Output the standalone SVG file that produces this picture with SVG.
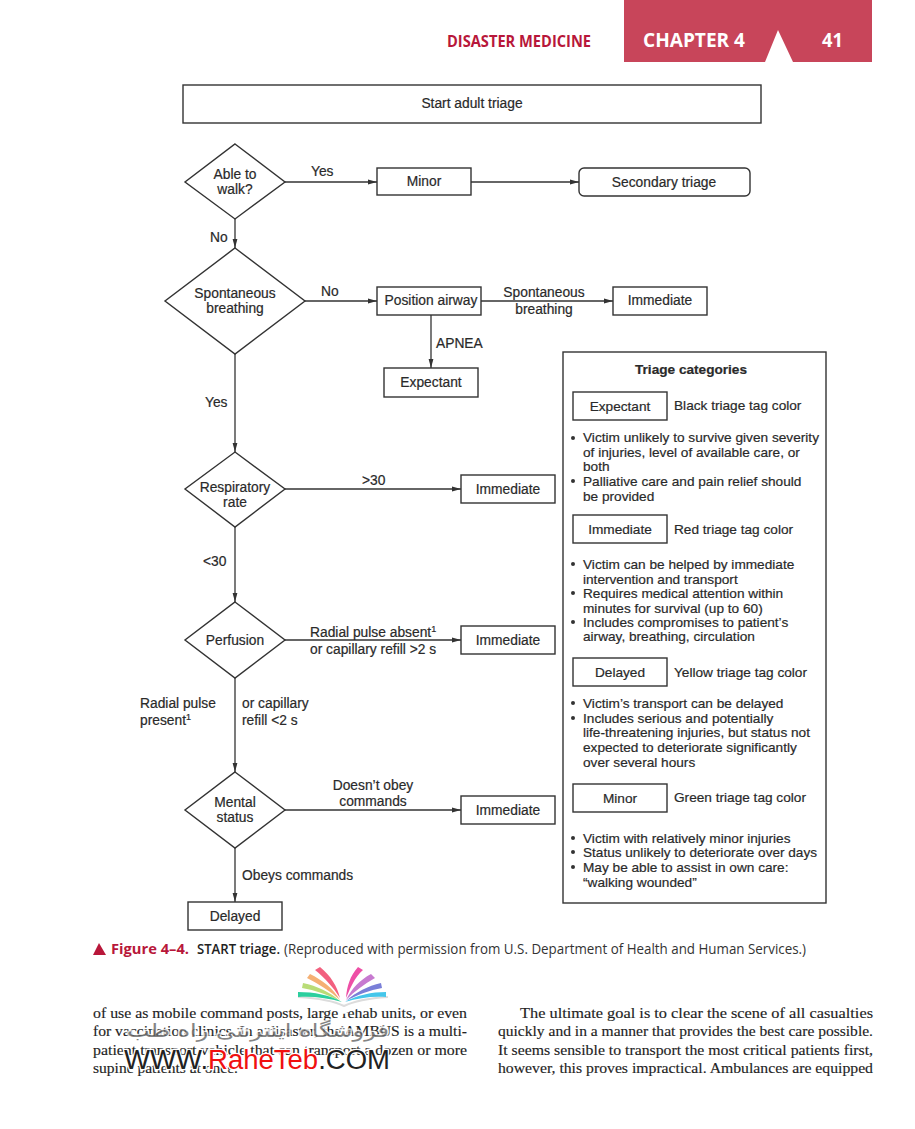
<svg xmlns="http://www.w3.org/2000/svg" width="915" height="1129" viewBox="0 0 915 1129">
<style>
text{font-family:"Liberation Sans",Arial,sans-serif;font-size:13.8px;fill:#2a2a2a;stroke:#2a2a2a;stroke-width:.2}
#categories text{font-size:13.65px}
.c{text-anchor:middle}
.b{fill:#fff;stroke:#333;stroke-width:1.4}
.l{fill:none;stroke:#333;stroke-width:1.3;marker-end:url(#a)}
.dot{fill:#333}
text.body{font-family:"Liberation Serif","Times New Roman",serif;font-size:15px;fill:#222;stroke-width:.15}
text.cap{font-family:"Open Sans","Noto Sans",sans-serif;font-size:15px;fill:#333;stroke:none}
text.hd{font-family:"Open Sans","Noto Sans",sans-serif;font-weight:700;stroke:none}
.sup{font-size:9px}
</style>
<defs>
<marker id="a" markerUnits="userSpaceOnUse" markerWidth="10" markerHeight="6" refX="9" refY="3" orient="auto"><path d="M0 .6L9 3L0 5.4Z" fill="#333"/></marker>
</defs>
<rect width="915" height="1129" fill="#fff"/>
<g id="header">
<path d="M624 0H872V62H793L778 30L765 62H624Z" fill="#c8455a"/>
<text class="hd" x="447" y="47" style="font-size:16px;fill:#b8173a" textLength="144" lengthAdjust="spacingAndGlyphs">DISASTER MEDICINE</text>
<text class="hd" x="643" y="47" style="font-size:19px;fill:#fff" textLength="102" lengthAdjust="spacingAndGlyphs">CHAPTER 4</text>
<text class="hd" x="822" y="47" style="font-size:19px;fill:#fff" textLength="21" lengthAdjust="spacingAndGlyphs">41</text>
</g>
<g id="connectors">
<path class="l" d="M285 182H377"/>
<path class="l" d="M471 182H579"/>
<path class="l" d="M235 219V248"/>
<path class="l" d="M305 301H377"/>
<path class="l" d="M481 301H613"/>
<path class="l" d="M431 315V368"/>
<path class="l" d="M235 354V452"/>
<path class="l" d="M285 489H461"/>
<path class="l" d="M235 527V602"/>
<path class="l" d="M285 640H461"/>
<path class="l" d="M235 678V772"/>
<path class="l" d="M285 810H461"/>
<path class="l" d="M235 848V902"/>
</g>
<g id="start"><rect class="b" x="183" y="85" width="578" height="38"/><text class="c" x="472" y="108">Start adult triage</text></g>
<g id="walk"><path class="b" d="M235 144L285 182L235 219L185 182Z"/><text class="c" x="235" y="179">Able to</text><text class="c" x="235" y="194">walk?</text></g>
<g id="minor"><rect class="b" x="377" y="168" width="94" height="27"/><text class="c" x="424" y="186">Minor</text></g>
<g id="secondary"><rect class="b" x="579" y="168" width="171" height="28" rx="5"/><text class="c" x="664" y="187">Secondary triage</text></g>
<g id="breathing"><path class="b" d="M235 248L305 301L235 354L165 301Z"/><text class="c" x="235" y="298">Spontaneous</text><text class="c" x="235" y="313">breathing</text></g>
<g id="airway"><rect class="b" x="377" y="287" width="104" height="28"/><text class="c" x="431" y="305">Position airway</text></g>
<g id="immediate1"><rect class="b" x="613" y="287" width="94" height="28"/><text class="c" x="660" y="305">Immediate</text></g>
<g id="expectant"><rect class="b" x="384" y="368" width="94" height="29"/><text class="c" x="431" y="387">Expectant</text></g>
<g id="resp"><path class="b" d="M235 452L285 489L235 527L185 489Z"/><text class="c" x="235" y="492">Respiratory</text><text class="c" x="235" y="507">rate</text></g>
<g id="immediate2"><rect class="b" x="461" y="475" width="94" height="28"/><text class="c" x="508" y="494">Immediate</text></g>
<g id="perfusion"><path class="b" d="M235 602L285 640L235 678L185 640Z"/><text class="c" x="235" y="645">Perfusion</text></g>
<g id="immediate3"><rect class="b" x="461" y="626" width="94" height="28"/><text class="c" x="508" y="645">Immediate</text></g>
<g id="mental"><path class="b" d="M235 772L285 810L235 848L185 810Z"/><text class="c" x="235" y="807">Mental</text><text class="c" x="235" y="822">status</text></g>
<g id="immediate4"><rect class="b" x="461" y="796" width="94" height="28"/><text class="c" x="508" y="815">Immediate</text></g>
<g id="delayed"><rect class="b" x="188" y="902" width="94" height="28"/><text class="c" x="235" y="921">Delayed</text></g>
<g id="labels">
<text x="311" y="176">Yes</text>
<text x="210" y="242">No</text>
<text x="321" y="296">No</text>
<text class="c" x="544" y="297">Spontaneous</text>
<text class="c" x="544" y="314">breathing</text>
<text x="436" y="348">APNEA</text>
<text x="205" y="407">Yes</text>
<text x="362" y="485">&gt;30</text>
<text x="203" y="566">&lt;30</text>
<text x="310" y="637">Radial pulse absent<tspan dy="-5" class="sup">1</tspan></text>
<text x="310" y="654">or capillary refill &gt;2 s</text>
<text x="140" y="708">Radial pulse</text>
<text x="140" y="725">present<tspan dy="-5" class="sup">1</tspan></text>
<text x="242" y="708">or capillary</text>
<text x="242" y="725">refill &lt;2 s</text>
<text class="c" x="373" y="790">Doesn’t obey</text>
<text class="c" x="373" y="806">commands</text>
<text x="242" y="880">Obeys commands</text>
</g>
<g id="categories">
<rect class="b" x="563" y="352" width="263" height="551"/>
<text class="c" x="691" y="374" style="font-weight:700" textLength="112" lengthAdjust="spacingAndGlyphs">Triage categories</text>
<g id="cat-expectant"><rect class="b" x="573" y="392" width="94" height="28"/><text class="c" x="620" y="411">Expectant</text><text x="674" y="410">Black triage tag color</text></g>
<circle class="dot" cx="573" cy="438" r="2"/><text x="583" y="442" textLength="236" lengthAdjust="spacingAndGlyphs">Victim unlikely to survive given severity</text>
<text x="583" y="457">of injuries, level of available care, or</text>
<text x="583" y="471">both</text>
<circle class="dot" cx="573" cy="481" r="2"/><text x="583" y="486">Palliative care and pain relief should</text>
<text x="583" y="501">be provided</text>
<g id="cat-immediate"><rect class="b" x="573" y="515" width="94" height="28"/><text class="c" x="620" y="534">Immediate</text><text x="674" y="534">Red triage tag color</text></g>
<circle class="dot" cx="573" cy="564" r="2"/><text x="583" y="569">Victim can be helped by immediate</text>
<text x="583" y="584">intervention and transport</text>
<circle class="dot" cx="573" cy="593" r="2"/><text x="583" y="598">Requires medical attention within</text>
<text x="583" y="613">minutes for survival (up to 60)</text>
<circle class="dot" cx="573" cy="622" r="2"/><text x="583" y="627">Includes compromises to patient’s</text>
<text x="583" y="641">airway, breathing, circulation</text>
<g id="cat-delayed"><rect class="b" x="573" y="658" width="94" height="28"/><text class="c" x="620" y="677">Delayed</text><text x="674" y="677">Yellow triage tag color</text></g>
<circle class="dot" cx="573" cy="703" r="2"/><text x="583" y="708">Victim’s transport can be delayed</text>
<circle class="dot" cx="573" cy="718" r="2"/><text x="583" y="723">Includes serious and potentially</text>
<text x="583" y="737" textLength="227" lengthAdjust="spacingAndGlyphs">life-threatening injuries, but status not</text>
<text x="583" y="752">expected to deteriorate significantly</text>
<text x="583" y="767">over several hours</text>
<g id="cat-minor"><rect class="b" x="573" y="784" width="94" height="28"/><text class="c" x="620" y="803">Minor</text><text x="674" y="802">Green triage tag color</text></g>
<circle class="dot" cx="573" cy="838" r="2"/><text x="583" y="843">Victim with relatively minor injuries</text>
<circle class="dot" cx="573" cy="852" r="2"/><text x="583" y="857" textLength="234" lengthAdjust="spacingAndGlyphs">Status unlikely to deteriorate over days</text>
<circle class="dot" cx="573" cy="867" r="2"/><text x="583" y="872">May be able to assist in own care:</text>
<text x="583" y="887">“walking wounded”</text>
</g>
<g id="caption">
<path d="M93 955L99 943L106 955Z" fill="#b8173a"/>
<text class="cap" x="111" y="954" style="font-weight:700;fill:#b8173a" textLength="78" lengthAdjust="spacingAndGlyphs">Figure 4–4.</text>
<text class="cap" x="197" y="954" style="font-weight:600;fill:#222" textLength="83" lengthAdjust="spacingAndGlyphs">START triage.</text>
<text class="cap" x="284" y="954" textLength="522" lengthAdjust="spacingAndGlyphs">(Reproduced with permission from U.S. Department of Health and Human Services.)</text>
</g>
<g id="body">
<text class="body" x="93" y="1018" textLength="374" lengthAdjust="spacingAndGlyphs">of use as mobile command posts, large rehab units, or even</text>
<text class="body" x="93" y="1036" textLength="374" lengthAdjust="spacingAndGlyphs">for vaccination clinics. In a disaster, the AMBUS is a multi-</text>
<text class="body" x="93" y="1055" textLength="374" lengthAdjust="spacingAndGlyphs">patient transport vehicle that can transport a dozen or more</text>
<text class="body" x="93" y="1073" textLength="145" lengthAdjust="spacingAndGlyphs">supine patients at once.</text>
<text class="body" x="520" y="1018" textLength="353" lengthAdjust="spacingAndGlyphs">The ultimate goal is to clear the scene of all casualties</text>
<text class="body" x="498" y="1036" textLength="375" lengthAdjust="spacingAndGlyphs">quickly and in a manner that provides the best care possible.</text>
<text class="body" x="498" y="1055" textLength="375" lengthAdjust="spacingAndGlyphs">It seems sensible to transport the most critical patients first,</text>
<text class="body" x="498" y="1073" textLength="375" lengthAdjust="spacingAndGlyphs">however, this proves impractical. Ambulances are equipped</text>
</g>
<g id="watermark">
<path d="M296 1000C315 1000 335 1003 344 1008C355 1003 375 1000 392 1000L392 1006C375 1004 355 1008 344 1014C335 1008 315 1004 296 1006Z" fill="#fff"/>
<path d="M298 997C315 998 332 1000 344 1006C356 1000 373 998 388 997" fill="none" stroke="#dcdcdc" stroke-width="2"/>
<path d="M315 970L320 967C331 976 337 986 340 998C333 987 325 978 315 970Z" fill="#f2607f"/>
<path d="M307 978L310 974C322 980 333 988 340 1000C330 991 319 984 307 978Z" fill="#f5b074"/>
<path d="M302 988L303 983C317 986 330 992 340 1001C328 995 315 990 302 988Z" fill="#b9dc77"/>
<path d="M298 997L298 992C314 992 330 995 342 1002C328 998 313 996 298 997Z" fill="#2ccf9e"/>
<path d="M358 967L363 970C354 978 351 987 346 998C347 986 350 976 358 967Z" fill="#ee4fa6"/>
<path d="M371 974L375 978C364 984 355 991 346 1000C352 988 360 980 371 974Z" fill="#c77ad0"/>
<path d="M381 983L382 988C370 990 357 995 346 1001C356 992 368 986 381 983Z" fill="#7a7fd8"/>
<path d="M386 992L386 997C372 996 358 998 345 1002C357 995 372 992 386 992Z" fill="#45c6ea"/>
<text x="127" y="1037" style="font-family:'DejaVu Sans',sans-serif;font-size:19px;fill:#666;stroke:#fff;stroke-width:2.5;paint-order:stroke;opacity:.8" textLength="262" lengthAdjust="spacingAndGlyphs">فروشگاه اینترنتی راه طب</text>
<text x="124" y="1069" style="font-size:27px;fill:#222;stroke:#fff;stroke-width:2.5;paint-order:stroke" textLength="266" lengthAdjust="spacingAndGlyphs">WWW.<tspan style="fill:#f01010">RaheTeb</tspan>.COM</text>
</g>
</svg>
